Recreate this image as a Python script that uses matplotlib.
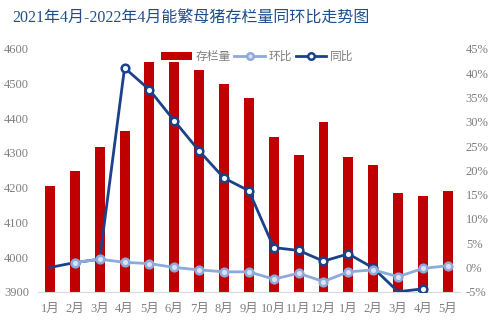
import matplotlib.pyplot as plt
import numpy as np

plt.rcParams['font.family'] = ['Liberation Serif', 'Noto Sans CJK SC']

# 2021.1 - 2022.5
months = ['1月', '2月', '3月', '4月', '5月', '6月', '7月', '8月', '9月',
          '10月', '11月', '12月', '1月', '2月', '3月', '4月', '5月']
stock = [4205, 4248, 4318, 4364, 4563, 4563, 4539, 4499, 4459,
         4346, 4294, 4390, 4289, 4265, 4186, 4177, 4191]
mom = [np.nan, 1.0, 1.7, 1.05, 0.8, 0.0, -0.5, -0.9, -0.9,
       -2.4, -1.2, -2.9, -0.9, -0.5, -1.9, -0.2, 0.35]
yoy = [0.0, 1.0, 1.7, 41.1, 36.6, 30.2, 24.0, 18.4, 15.8,
       4.1, 3.5, 1.3, 2.8, -0.1, -5.0, -4.4, np.nan]

red = '#C00000'
dark = '#1B4289'
light = '#8EA9DB'
gray = '#7F7F7F'

fig = plt.figure(figsize=(4.95, 3.22), dpi=100)
ax = fig.add_axes([0.0758, 0.094, 0.854, 0.754])
ax2 = ax.twinx()

x = np.arange(len(months))
bars = ax.bar(x, stock, width=0.4, color=red, label='存栏量', zorder=2)
ax.set_ylim(3900, 4600)
ax.set_yticks(range(3900, 4601, 100))
ax.set_xlim(-0.5, len(months) - 0.5)
ax.set_xticks(x)
ax.set_xticklabels(months)

ax2.set_ylim(-5, 45)
ax2.set_yticks(range(-5, 46, 5))
ax2.set_yticklabels([f'{v}%' for v in range(-5, 46, 5)])

l_yoy, = ax2.plot(x, yoy, color=dark, lw=2, marker='o', ms=5.5, mew=1.8,
                  mfc='white', mec=dark, markevery=[i for i in range(1, 16) if i != 14],
                  label='同比', zorder=3)
l_mom, = ax2.plot(x, mom, color=light, lw=2, marker='o', ms=5.5, mew=1.8,
                  mfc='#D9E2F3', mec=light, label='环比', zorder=4)

for a in (ax, ax2):
    for s in a.spines.values():
        s.set_visible(False)
    a.tick_params(length=0, labelsize=9, colors=gray)
ax.spines['bottom'].set_visible(True)
ax.spines['bottom'].set_color('#D9D9D9')
ax.tick_params(axis='y', pad=6)
ax2.tick_params(axis='y', pad=4)
ax.tick_params(axis='x', pad=8)

fig.text(0.024, 0.942, '2021年4月-2022年4月能繁母猪存栏量同环比走势图',
         fontsize=11.5, color='#1F4E8C', va='center')

leg = ax2.legend([bars, l_mom, l_yoy], ['存栏量', '环比', '同比'],
                 loc='upper center', bbox_to_anchor=(0.52, 1.04), ncol=3,
                 frameon=False, handlelength=2.6,
                 handletextpad=0.3, columnspacing=0.3, markerscale=0.85,
                 prop={'family': ['Noto Sans CJK SC'], 'size': 8.5})
for t in leg.get_texts():
    t.set_color(gray)

fig.savefig('out.png', dpi=100)
